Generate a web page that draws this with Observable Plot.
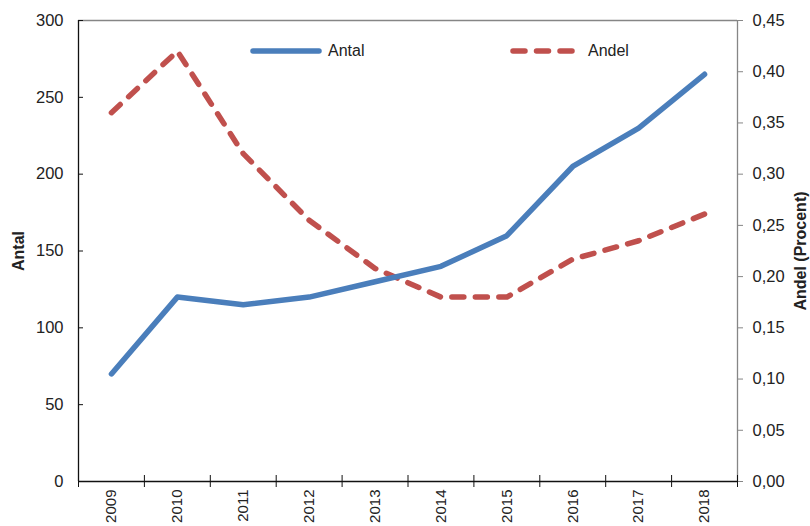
<!DOCTYPE html>
<html>
<head>
<meta charset="utf-8">
<script src="https://cdn.jsdelivr.net/npm/d3@7"></script>
<script src="https://cdn.jsdelivr.net/npm/@observablehq/plot@0.6"></script>
<style>
  html, body { margin: 0; padding: 0; background: #fff; }
  #wrap { position: relative; width: 810px; height: 526px; font-family: "Liberation Sans Narrow", "Liberation Sans", Arial, sans-serif; }
  #wrap g[aria-label="y-axis label"] text { font-weight: bold; font-size: 16px; }
  .legend { position: absolute; top: 40px; font-size: 16px; color: #222; display: flex; align-items: center; }
  .legend svg { display: block; }
</style>
</head>
<body>
<div id="wrap"></div>
<script>
const years = [2009, 2010, 2011, 2012, 2013, 2014, 2015, 2016, 2017, 2018];
const antal = [70, 120, 115, 120, 130, 140, 160, 205, 230, 265];
const andel = [0.36, 0.42, 0.32, 0.255, 0.208, 0.18, 0.18, 0.217, 0.235, 0.261];
const leftTicks = [0, 50, 100, 150, 200, 250, 300];
const rightTicks = [0, 0.05, 0.10, 0.15, 0.20, 0.25, 0.30, 0.35, 0.40, 0.45];

const blue = "#4A7EBB";
const red = "#C0504D";
const yMax = leftTicks[leftTicks.length - 1];
const k = yMax / rightTicks[rightTicks.length - 1];

const data = years.map((y, i) => ({year: y, antal: antal[i], andel: andel[i]}));
const x0 = years[0] - 0.5, x1 = years[years.length - 1] + 0.5;
const bounds = years.map(y => y - 0.5).concat([x1]);

const chart = Plot.plot({
  width: 810,
  height: 526,
  marginLeft: 78,
  marginRight: 73,
  marginTop: 20,
  marginBottom: 45,
  style: {fontFamily: '"Liberation Sans Narrow", "Liberation Sans", Arial, sans-serif', fontSize: "16.5px", color: "#222", background: "#fff"},
  x: {domain: [x0, x1]},
  y: {domain: [0, yMax]},
  marks: [
    Plot.ruleY([yMax], {stroke: "#868686", strokeWidth: 1.3}),
    Plot.ruleX([x1], {stroke: "#868686", strokeWidth: 1.3}),
    Plot.ruleX([x0], {stroke: "#111", strokeWidth: 1.3}),
    Plot.ruleY([0], {stroke: "#111", strokeWidth: 1.3}),
    // x axis ticks crossing the axis
    Plot.axisX({ticks: bounds, tickSize: 6, tickFormat: () => "", stroke: "#111", label: null}),
    Plot.axisX({ticks: bounds, tickSize: -6, tickFormat: () => "", stroke: "#111", label: null}),
    Plot.axisX({ticks: years, tickSize: 0, tickRotate: -90, tickPadding: 8, tickFormat: d => String(d), label: null, fill: "#222", fontSize: 15}),
    // left axis
    Plot.axisY({anchor: "left", ticks: leftTicks, tickSize: -5, tickFormat: () => "", stroke: "#111", label: null}),
    Plot.axisY({anchor: "left", ticks: leftTicks, tickSize: 0, tickPadding: 15, label: "Antal", labelAnchor: "center", labelOffset: 66, labelArrow: "none", fill: "#222"}),
    // right axis
    Plot.axisY({anchor: "right", ticks: rightTicks.map(v => v * k), tickSize: 5, tickPadding: 10,
      tickFormat: d => (d / k).toFixed(2).replace(".", ","), stroke: "#868686", fill: "#222",
      label: "Andel (Procent)", labelAnchor: "center", labelOffset: 68, labelArrow: "none"}),
    Plot.line(data, {x: "year", y: d => d.andel * k, stroke: red, strokeWidth: 5.5, strokeDasharray: "12,11.5", strokeLinecap: "round", strokeLinejoin: "round"}),
    Plot.line(data, {x: "year", y: "antal", stroke: blue, strokeWidth: 5.5, strokeLinecap: "round", strokeLinejoin: "round"})
  ]
});

const wrap = document.getElementById("wrap");
wrap.appendChild(chart);

function addLegend(left, label, color, dash, gap) {
  const div = document.createElement("div");
  div.className = "legend";
  div.style.left = left + "px";
  div.innerHTML = `<svg width="76" height="22"><line x1="4" x2="70" y1="11" y2="11" stroke="${color}" stroke-width="5.5" stroke-linecap="round" ${dash ? `stroke-dasharray="${dash}"` : ""}/></svg><span style="margin-left:${gap}px">${label}</span>`;
  wrap.appendChild(div);
}
addLegend(249, "Antal", blue, null, 3);
addLegend(509, "Andel", red, "12,11.5", 3);
</script>
</body>
</html>
